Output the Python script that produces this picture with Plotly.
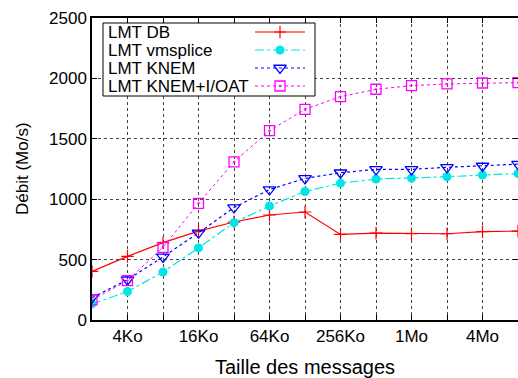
import math
import plotly.graph_objects as go

sizes_ko = [2, 4, 8, 16, 32, 64, 128, 256, 512, 1024, 2048, 4096, 8192]
tick_labels = ["", "4Ko", "", "16Ko", "", "64Ko", "", "256Ko", "", "1Mo", "", "4Mo", ""]

db = [402, 527, 640, 736, 811, 869, 894, 708, 719, 714, 714, 731, 736]
vmsplice = [133, 236, 397, 597, 806, 944, 1064, 1133, 1167, 1175, 1186, 1200, 1212]
knem = [185, 333, 522, 722, 931, 1080, 1172, 1219, 1247, 1247, 1264, 1275, 1290]
knem_ioat = [166, 326, 602, 966, 1309, 1567, 1744, 1849, 1910, 1940, 1954, 1962, 1965]

series_names = ["LMT DB", "LMT vmsplice", "LMT KNEM", "LMT KNEM+I/OAT"]

font = "Liberation Sans, Arial, sans-serif"

styles = [
    dict(line=dict(color="#ff0000", width=1.2, dash="solid"),
         marker=dict(symbol="cross-thin", size=9, color="#ff0000",
                     line=dict(color="#ff0000", width=1.2))),
    dict(line=dict(color="#00e5e5", width=1.2, dash="dashdot"),
         marker=dict(symbol="circle", size=9, color="#00e5e5")),
    dict(line=dict(color="#0000ff", width=1.2, dash="dot"),
         marker=dict(symbol="triangle-down-open", size=11, color="#0000ff",
                     line=dict(color="#0000ff", width=1.3))),
    dict(line=dict(color="#ff00ff", width=1, dash="dot"),
         marker=dict(symbol="square-open-dot", size=10, color="#ff00ff",
                     line=dict(color="#ff00ff", width=1.3))),
]

fig = go.Figure()
for name, vals, st in zip(series_names, [db, vmsplice, knem, knem_ioat], styles):
    fig.add_trace(go.Scatter(x=sizes_ko, y=vals, name=name, mode="lines+markers",
                             showlegend=False, **st))

# Manual gnuplot-style legend (text left, sample right) on a pixel-mapped overlay axis
fig.add_trace(go.Scatter(x=[103, 315, 315, 103, 103], y=[23, 23, 96, 96, 23],
                         mode="lines", fill="toself", fillcolor="white",
                         line=dict(color="black", width=1), xaxis="x2", yaxis="y2",
                         showlegend=False, hoverinfo="skip"))
for i, (name, st) in enumerate(zip(series_names, styles)):
    yrow = 32 + 18 * i
    fig.add_trace(go.Scatter(x=[255, 305], y=[yrow, yrow], mode="lines", xaxis="x2", yaxis="y2",
                             showlegend=False, hoverinfo="skip", line=st["line"]))
    fig.add_trace(go.Scatter(x=[280], y=[yrow], mode="markers", xaxis="x2", yaxis="y2",
                             showlegend=False, hoverinfo="skip", marker=st["marker"]))
    fig.add_annotation(x=106, y=yrow, xref="x2", yref="y2", text=name, showarrow=False,
                       xanchor="left", yanchor="middle", font=dict(size=17, family=font))

# Y-axis title placed as an annotation (gnuplot position)
fig.add_annotation(x=-70 / 426, y=0.5, xref="paper", yref="paper", text="Débit (Mo/s)",
                   textangle=-90, showarrow=False, xanchor="center", yanchor="middle",
                   font=dict(size=17, family=font))

fig.update_layout(
    width=518, height=378,
    margin=dict(l=92, r=0, t=18, b=58, autoexpand=False),
    paper_bgcolor="white", plot_bgcolor="white",
    font=dict(family=font, size=17, color="black"),
    showlegend=False,
    xaxis=dict(type="log", range=[math.log10(2), math.log10(8192)],
               tickvals=sizes_ko, ticktext=tick_labels, automargin=False,
               ticks="inside", ticklen=5, tickcolor="black", mirror="ticks",
               showline=True, linecolor="black", linewidth=1.5,
               showgrid=True, gridcolor="#444444", griddash="dot", gridwidth=1,
               title=dict(text="Taille des messages", standoff=17),
               tickfont=dict(size=17), zeroline=False),
    yaxis=dict(range=[0, 2500], tickvals=[0, 500, 1000, 1500, 2000, 2500],
               automargin=False,
               ticks="inside", ticklen=5, tickcolor="black", mirror="ticks",
               showline=True, linecolor="black", linewidth=1.5,
               showgrid=True, gridcolor="#444444", griddash="dot", gridwidth=1,
               tickfont=dict(size=17), zeroline=False),
    xaxis2=dict(overlaying="x", range=[92, 518], visible=False, fixedrange=True),
    yaxis2=dict(overlaying="y", range=[320, 18], visible=False, fixedrange=True),
)

fig.write_html("out.html", config={"displayModeBar": False},
               post_script="document.body.style.margin='0';")
